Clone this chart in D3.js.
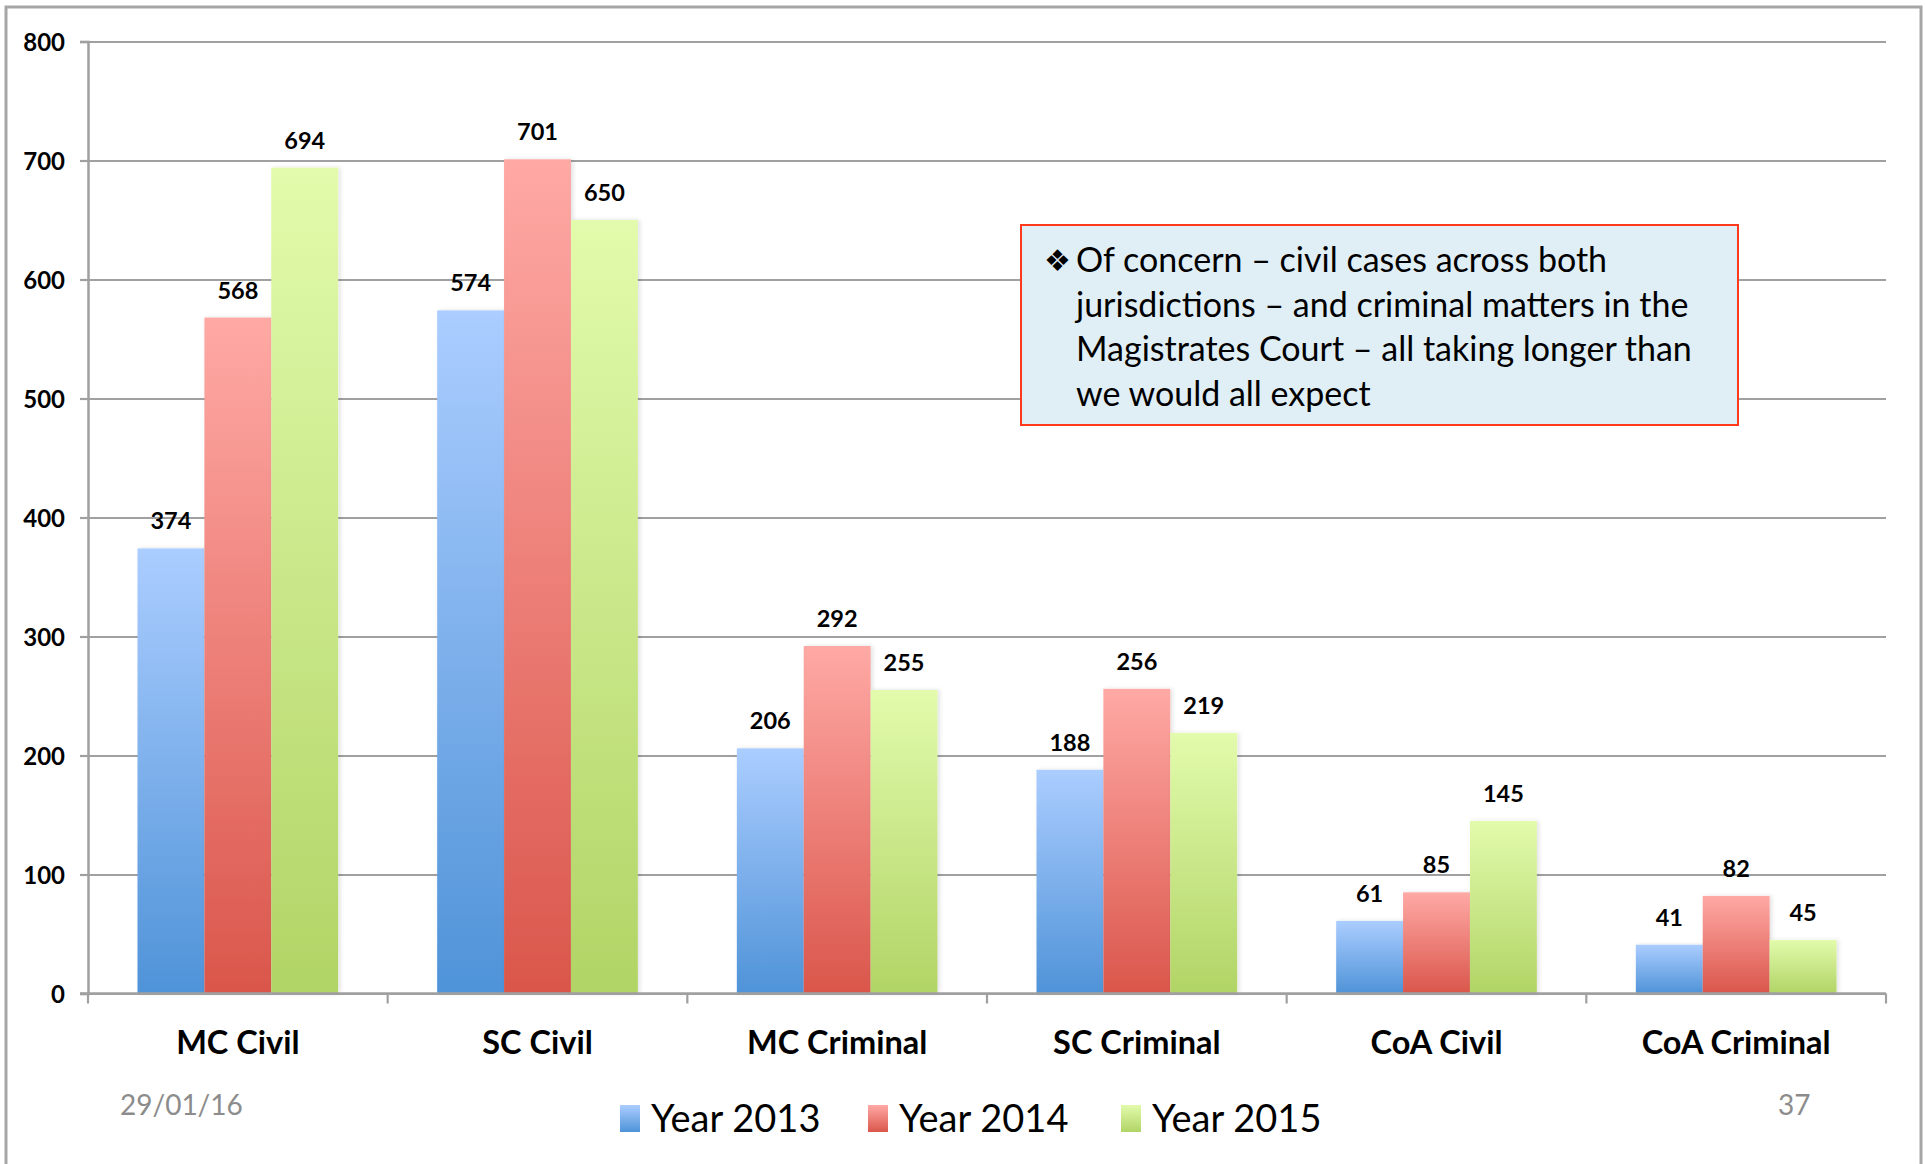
<!DOCTYPE html>
<html>
<head>
<meta charset="utf-8">
<script src="https://d3js.org/d3.v7.min.js"></script>
<style>
  body { margin: 0; background: #fff; }
  svg text { font-family: Lato, "Open Sans", sans-serif; }
  .axisText { font-weight: bold; font-size: 24px; fill: #000; }
  .catText { font-weight: bold; font-size: 32.5px; fill: #000; }
  .valueText { font-weight: bold; font-size: 23.5px; fill: #000; }
  .legendText { font-size: 38px; fill: #000; }
  .footText { font-size: 28px; fill: #8c8c8c; }
  .noteText { font-size: 34px; fill: #000; }
</style>
</head>
<body>
<div id="chart"></div>
<script>
// data
var categories = ["MC Civil", "SC Civil", "MC Criminal", "SC Criminal", "CoA Civil", "CoA Criminal"];
var seriesNames = ["Year 2013", "Year 2014", "Year 2015"];
var year2013 = [374, 574, 206, 188, 61, 41];
var year2014 = [568, 701, 292, 256, 85, 82];
var year2015 = [694, 650, 255, 219, 145, 45];
var yTicks = [0, 100, 200, 300, 400, 500, 600, 700, 800];
var noteLines = [
    "Of concern \u2013 civil cases across both",
    "jurisdictions \u2013 and criminal matters in the",
    "Magistrates Court \u2013 all taking longer than",
    "we would all expect"
];
var dateText = "29/01/16";
var pageText = "37";

// gradient colours per series (top, bottom)
var seriesColors = [
    ["#abcdff", "#4f93d8"],
    ["#ffa9a5", "#da564b"],
    ["#e2fbac", "#b1d466"]
];

function BarChart(){
    var self = this;
    self.init();
};

/**
 * Sets up the svg, scales and defs
 */
BarChart.prototype.init = function(){
    var self = this;
    self.svgWidth = 1925;
    self.svgHeight = 1164;
    self.plot = {left: 88, right: 1886, top: 41.5, bottom: 993.5};

    self.svg = d3.select("#chart").append("svg")
        .attr("width", self.svgWidth)
        .attr("height", self.svgHeight);

    var defs = self.svg.append("defs");
    seriesColors.forEach(function(c, i){
        var g = defs.append("linearGradient")
            .attr("id", "grad" + i)
            .attr("x1", 0).attr("y1", 0).attr("x2", 0).attr("y2", 1);
        g.append("stop").attr("offset", "0%").attr("stop-color", c[0]);
        g.append("stop").attr("offset", "100%").attr("stop-color", c[1]);
    });

    var shadow = defs.append("filter").attr("id", "shadow")
        .attr("x", "-20%").attr("y", "-5%").attr("width", "140%").attr("height", "110%");
    shadow.append("feDropShadow")
        .attr("dx", 2).attr("dy", 0).attr("stdDeviation", 2)
        .attr("flood-color", "#000").attr("flood-opacity", 0.12);

    self.y = d3.scaleLinear()
        .domain([0, 800])
        .range([self.plot.bottom, self.plot.top]);

    self.x = d3.scaleBand()
        .domain(categories)
        .range([self.plot.left, self.plot.right])
        .paddingInner(0).paddingOuter(0);

    self.x1 = d3.scaleBand()
        .domain(seriesNames)
        .range([0, self.x.bandwidth()])
        .paddingInner(0).paddingOuter(0.74);
};

/**
 * Draws frame, grid, bars, labels, legend and the note box
 */
BarChart.prototype.update = function(){
    var self = this;
    var plotW = self.plot.right - self.plot.left;

    // outer slide frame
    self.svg.append("rect")
        .attr("x", 6).attr("y", 7)
        .attr("width", 1915).attr("height", 1170)
        .attr("fill", "none")
        .attr("stroke", "#a6a6a6")
        .attr("stroke-width", 3);

    // gridlines
    var grid = self.svg.append("g")
        .attr("transform", "translate(" + self.plot.left + ",0)")
        .call(d3.axisRight(self.y).tickValues(yTicks).tickSize(plotW).tickFormat(""));
    grid.select(".domain").remove();
    grid.selectAll("line").attr("stroke", "#a0a0a0").attr("stroke-width", 2.2);

    // bars
    var data = [year2013, year2014, year2015];
    var groups = self.svg.selectAll(".cat")
        .data(categories)
        .enter().append("g")
        .attr("class", "cat")
        .attr("transform", function(d){ return "translate(" + self.x(d) + ",0)"; });

    groups.selectAll("rect")
        .data(function(d, ci){
            return seriesNames.map(function(s, si){ return {s: s, si: si, v: data[si][ci]}; });
        })
        .enter().append("rect")
        .attr("x", function(d){ return self.x1(d.s); })
        .attr("y", function(d){ return self.y(d.v); })
        .attr("width", self.x1.bandwidth())
        .attr("height", function(d){ return self.y(0) - self.y(d.v); })
        .attr("fill", function(d){ return "url(#grad" + d.si + ")"; })
        .attr("filter", "url(#shadow)");

    groups.selectAll(".valueText")
        .data(function(d, ci){
            return seriesNames.map(function(s, si){ return {s: s, si: si, v: data[si][ci]}; });
        })
        .enter().append("text")
        .attr("class", "valueText")
        .attr("x", function(d){ return self.x1(d.s) + self.x1.bandwidth() / 2; })
        .attr("y", function(d){ return self.y(d.v) - 19; })
        .attr("text-anchor", "middle")
        .text(function(d){ return d.v; });

    // y axis
    var yAxis = self.svg.append("g")
        .attr("transform", "translate(" + self.plot.left + ",0)")
        .call(d3.axisLeft(self.y).tickValues(yTicks).tickSize(8).tickPadding(15));
    yAxis.select(".domain").attr("stroke", "#a0a0a0").attr("stroke-width", 2.5);
    yAxis.selectAll("line").attr("stroke", "#a0a0a0").attr("stroke-width", 2.2);
    yAxis.selectAll("text").attr("class", "axisText").attr("dy", "0.36em");

    // x axis line and boundary ticks
    self.svg.append("line")
        .attr("x1", self.plot.left - 8).attr("x2", self.plot.right)
        .attr("y1", self.y(0)).attr("y2", self.y(0))
        .attr("stroke", "#a0a0a0").attr("stroke-width", 2.5);

    var bounds = categories.map(function(c){ return self.x(c); }).concat([self.plot.right]);
    self.svg.selectAll(".xtick")
        .data(bounds)
        .enter().append("line")
        .attr("class", "xtick")
        .attr("x1", function(d){ return d; }).attr("x2", function(d){ return d; })
        .attr("y1", self.y(0)).attr("y2", self.y(0) + 10)
        .attr("stroke", "#a0a0a0").attr("stroke-width", 2.2);

    self.svg.selectAll(".catText")
        .data(categories)
        .enter().append("text")
        .attr("class", "catText")
        .attr("x", function(d){ return self.x(d) + self.x.bandwidth() / 2; })
        .attr("y", 1054)
        .attr("text-anchor", "middle")
        .text(function(d){ return d; });

    // legend
    var legendX = [620, 868, 1121];
    var legend = self.svg.selectAll(".legend")
        .data(seriesNames)
        .enter().append("g")
        .attr("class", "legend")
        .attr("transform", function(d, i){ return "translate(" + legendX[i] + ",1105)"; });
    legend.append("rect")
        .attr("width", 20).attr("height", 27)
        .attr("fill", function(d, i){ return "url(#grad" + i + ")"; });
    legend.append("text")
        .attr("class", "legendText")
        .attr("x", 31).attr("y", 27)
        .text(function(d){ return d; });

    // footer
    self.svg.append("text").attr("class", "footText")
        .attr("x", 120).attr("y", 1115).text(dateText);
    self.svg.append("text").attr("class", "footText")
        .attr("x", 1778).attr("y", 1115).text(pageText);

    // note box
    self.svg.append("rect")
        .attr("x", 1021).attr("y", 225)
        .attr("width", 717).attr("height", 200)
        .attr("fill", "#e0eef6")
        .attr("stroke", "#ff3a1c")
        .attr("stroke-width", 2);

    self.svg.append("text")
        .attr("x", 1044).attr("y", 271)
        .style("font-family", "'DejaVu Sans'")
        .style("font-size", "30px")
        .text("\u2756");

    self.svg.selectAll(".noteText")
        .data(noteLines)
        .enter().append("text")
        .attr("class", "noteText")
        .attr("x", 1076)
        .attr("y", function(d, i){ return 272 + i * 44.5; })
        .text(function(d){ return d; });
};

var chart = new BarChart();
chart.update();
</script>
</body>
</html>
